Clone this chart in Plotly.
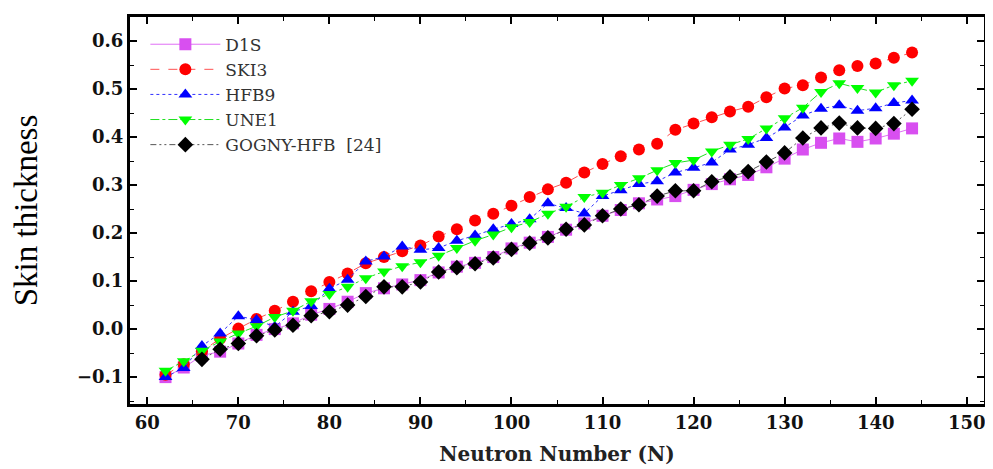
import plotly.graph_objects as go

N_all = list(range(62, 146, 2))
N_gogny = list(range(66, 146, 2))

d1s = [-0.100, -0.080, -0.055, -0.047, -0.030, -0.012, 0.000, 0.012, 0.030, 0.042,
       0.057, 0.075, 0.085, 0.093, 0.102, 0.118, 0.130, 0.138, 0.150, 0.168,
       0.180, 0.192, 0.207, 0.220, 0.236, 0.248, 0.262, 0.270, 0.277, 0.290,
       0.302, 0.312, 0.321, 0.337, 0.355, 0.374, 0.388, 0.397, 0.390, 0.397,
       0.407, 0.418]
ski3 = [-0.095, -0.073, -0.046, -0.020, 0.001, 0.021, 0.038, 0.057, 0.079, 0.098,
        0.116, 0.137, 0.150, 0.162, 0.174, 0.193, 0.208, 0.226, 0.240, 0.257,
        0.275, 0.291, 0.305, 0.326, 0.344, 0.360, 0.374, 0.386, 0.415, 0.428,
        0.441, 0.453, 0.463, 0.483, 0.501, 0.508, 0.524, 0.539, 0.548, 0.553,
        0.565, 0.576]
hfb9 = [-0.100, -0.081, -0.035, -0.009, 0.027, 0.019, 0.005, 0.036, 0.048, 0.084,
        0.103, 0.141, 0.151, 0.172, 0.165, 0.169, 0.184, 0.195, 0.208, 0.219,
        0.229, 0.262, 0.252, 0.241, 0.277, 0.289, 0.302, 0.308, 0.326, 0.336,
        0.347, 0.374, 0.384, 0.398, 0.420, 0.445, 0.459, 0.466, 0.455, 0.460,
        0.471, 0.476]
une1 = [-0.087, -0.067, -0.045, -0.026, -0.009, 0.006, 0.025, 0.038, 0.058, 0.073,
        0.088, 0.106, 0.120, 0.131, 0.139, 0.153, 0.169, 0.184, 0.197, 0.212,
        0.223, 0.240, 0.255, 0.275, 0.284, 0.300, 0.314, 0.331, 0.346, 0.352,
        0.370, 0.384, 0.396, 0.418, 0.439, 0.461, 0.494, 0.512, 0.502, 0.493,
        0.508, 0.517]
gogny = [-0.063, -0.042, -0.030, -0.014, -0.002, 0.008, 0.028, 0.036,
         0.050, 0.068, 0.088, 0.088, 0.098, 0.119, 0.128, 0.136, 0.148, 0.166,
         0.179, 0.190, 0.208, 0.217, 0.236, 0.250, 0.259, 0.277, 0.288, 0.288,
         0.307, 0.317, 0.328, 0.348, 0.367, 0.398, 0.419, 0.429, 0.419, 0.418,
         0.428, 0.458]

x_ticks = [60, 70, 80, 90, 100, 110, 120, 130, 140, 150]
y_ticks = [-0.1, 0.0, 0.1, 0.2, 0.3, 0.4, 0.5, 0.6]

series = [
    ("D1S", N_all, d1s, "#d84ff0", "solid", "square", "#e070f5"),
    ("SKI3", N_all, ski3, "#ff0000", "dash", "circle", "#ff5050"),
    ("HFB9", N_all, hfb9, "#0000ff", "dot", "triangle-up", "#3030ff"),
    ("UNE1", N_all, une1, "#00ff00", "dashdot", "triangle-down", "#20e020"),
    ("GOGNY-HFB  [24]", N_gogny, gogny, "#000000", "6px,3px,2px,3px,2px,3px", "diamond", "#555555"),
]

fig = go.Figure()
for name, xs, ys, mc, dash, sym, lc in series:
    fig.add_trace(go.Scatter(
        x=xs, y=ys, name=name, mode="lines+markers",
        line=dict(color=lc, width=1, dash=dash),
        marker=dict(symbol=sym, size=12, color=mc, line=dict(width=0)),
    ))

axis_common = dict(
    showline=True, linewidth=3, linecolor="black", mirror="allticks",
    ticks="inside", ticklen=7, tickwidth=1.5, tickcolor="black",
    showgrid=False, zeroline=False,
    tickfont=dict(family="DejaVu Serif", size=18, color="#111", weight="bold"),
)

fig.update_xaxes(
    range=[58.1, 151.9], tickvals=x_ticks,
    minor=dict(ticks="inside", ticklen=4, dtick=5, tick0=0, tickcolor="black", tickwidth=1),
    title=dict(text="<b>Neutron Number (N)</b>", standoff=16,
               font=dict(family="DejaVu Serif", size=20, color="#222")),
    **axis_common,
)
fig.update_yaxes(
    range=[-0.156, 0.65], tickvals=y_ticks, tickformat=".1f",
    minor=dict(ticks="inside", ticklen=4, dtick=0.05, tick0=0, tickcolor="black", tickwidth=1),
    title=dict(text="Skin thickness", standoff=34,
               font=dict(family="Liberation Serif", size=33, color="black")),
    **axis_common,
)

fig.update_layout(
    width=985, height=461,
    margin=dict(l=122, r=6, t=7, b=64),
    paper_bgcolor="white", plot_bgcolor="white",
    showlegend=True,
    legend=dict(
        x=0.018, y=0.975, xanchor="left", yanchor="top",
        bgcolor="rgba(0,0,0,0)", borderwidth=0,
        font=dict(family="DejaVu Serif", size=17, color="#333"),
        tracegroupgap=0, itemwidth=70,
    ),
)

fig.write_html("out.html")
